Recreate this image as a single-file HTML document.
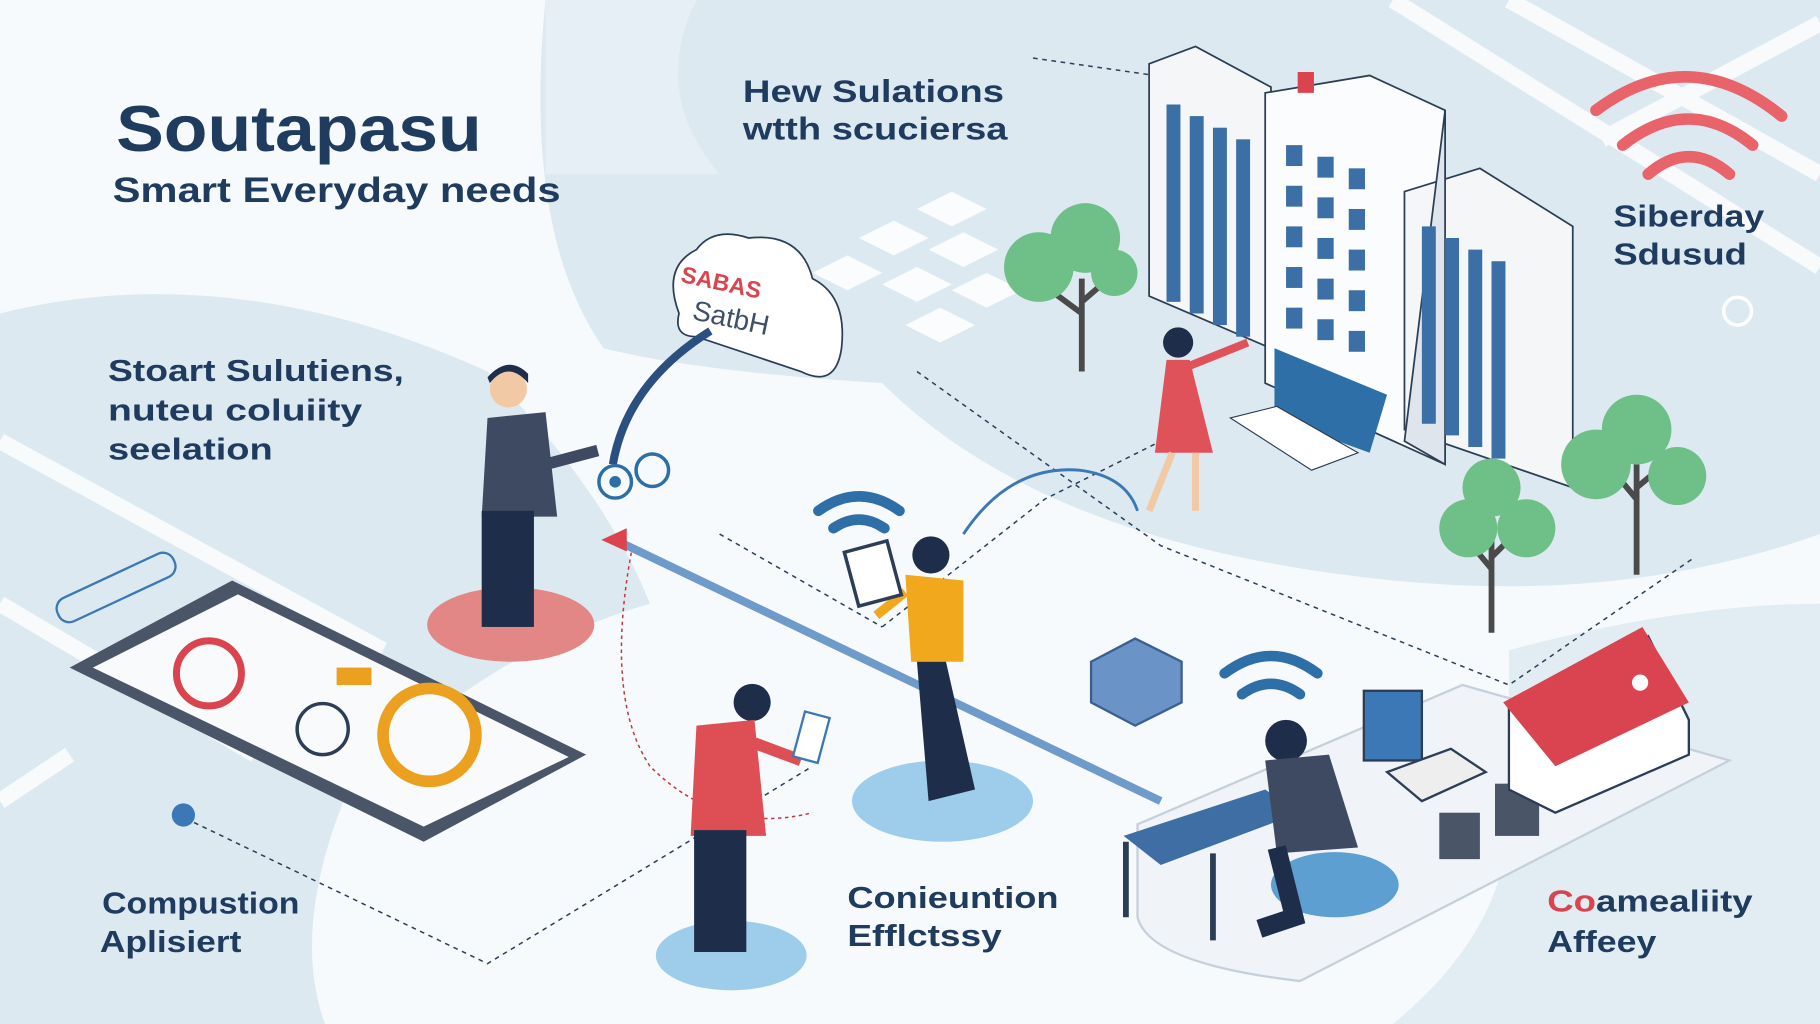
<!DOCTYPE html>
<html><head><meta charset="utf-8"><style>
html,body{margin:0;padding:0;width:1820px;height:1024px;overflow:hidden;background:#fff}
svg{display:block}
text{font-family:"Liberation Sans",sans-serif;font-weight:bold;fill:#1f3b5e}
</style></head><body>
<svg width="1820" height="1024" viewBox="0 0 1568 882" preserveAspectRatio="none">
<rect width="1568" height="882" fill="#f7fafc"/>
<path d="M470 0 L1568 0 L1568 460 Q1400 520 1200 500 Q900 470 760 330 Q600 320 520 300 Q450 200 470 0Z" fill="#dce9f1"/>
<path d="M0 270 Q200 220 420 320 Q520 420 560 520 Q420 560 300 680 Q250 800 280 882 L0 882Z" fill="#dce9f1"/>
<path d="M1300 560 Q1450 520 1568 520 L1568 882 L1200 882 Q1300 800 1300 700Z" fill="#e2edf3"/>
<path d="M600 0 Q560 80 620 150 L470 150 L470 0Z" fill="#e6eff5"/>
<g stroke="#ffffff" stroke-width="14" opacity="0.8" fill="none">
<path d="M0 380 L330 560"/><path d="M0 520 L220 650"/><path d="M60 650 L0 690"/>
<path d="M1200 0 L1568 230"/><path d="M1300 0 L1568 150"/><path d="M1380 120 L1568 20"/>
</g>
<g fill="#ffffff" opacity="0.9">
<path d="M790 180 l30 -15 l30 15 l-30 15z"/><path d="M740 205 l30 -15 l30 15 l-30 15z"/><path d="M800 215 l30 -15 l30 15 l-30 15z"/>
<path d="M700 235 l30 -15 l30 15 l-30 15z"/><path d="M760 245 l30 -15 l30 15 l-30 15z"/><path d="M820 250 l30 -15 l30 15 l-30 15z"/>
<path d="M780 280 l30 -15 l30 15 l-30 15z"/>
</g>
<g stroke="#2a3f5a" stroke-width="1.3" stroke-dasharray="4 4" fill="none">
<path d="M620 460 L760 540"/><path d="M760 540 L900 430 L1000 380"/>
<path d="M790 320 L1000 470 L1300 590 L1460 480"/>
<path d="M160 705 L420 830 L700 660"/>
<path d="M890 50 L1100 80"/>
</g>
<path d="M545 470 Q520 600 560 660 Q620 720 700 700" stroke="#c0393f" stroke-width="1.3" stroke-dasharray="3 3" fill="none"/>
<path d="M530 465 L1000 690" stroke="#6f9bcb" stroke-width="7"/>
<path d="M518 465 L540 455 L540 475Z" fill="#d9444e"/>
<text x="100" y="130" font-size="56" textLength="315" lengthAdjust="spacingAndGlyphs">Soutapasu</text>
<text x="97" y="174" font-size="30" textLength="386" lengthAdjust="spacingAndGlyphs">Smart Everyday needs</text>
<text x="640" y="88" font-size="27" textLength="225" lengthAdjust="spacingAndGlyphs">Hew Sulations</text>
<text x="640" y="120" font-size="27" textLength="228" lengthAdjust="spacingAndGlyphs">wtth scuciersa</text>
<text x="93" y="328" font-size="26" textLength="255" lengthAdjust="spacingAndGlyphs">Stoart Sulutiens,</text>
<text x="93" y="362" font-size="26" textLength="219" lengthAdjust="spacingAndGlyphs">nuteu coluiity</text>
<text x="93" y="396" font-size="26" textLength="142" lengthAdjust="spacingAndGlyphs">seelation</text>
<text x="1390" y="195" font-size="26" textLength="130" lengthAdjust="spacingAndGlyphs">Siberday</text>
<text x="1390" y="228" font-size="26" textLength="115" lengthAdjust="spacingAndGlyphs">Sdusud</text>
<text x="88" y="787" font-size="26" textLength="170" lengthAdjust="spacingAndGlyphs">Compustion</text>
<text x="86" y="820" font-size="26" textLength="122" lengthAdjust="spacingAndGlyphs">Aplisiert</text>
<text x="730" y="782" font-size="26" textLength="182" lengthAdjust="spacingAndGlyphs">Conieuntion</text>
<text x="730" y="815" font-size="26" textLength="133" lengthAdjust="spacingAndGlyphs">Efflctssy</text>
<text x="1333" y="785" font-size="26" textLength="177" lengthAdjust="spacingAndGlyphs"><tspan fill="#d9444e">Co</tspan>amealiity</text>
<text x="1333" y="820" font-size="26" textLength="94" lengthAdjust="spacingAndGlyphs">Affeey</text>
<g stroke="#e8636a" stroke-width="10" fill="none" stroke-linecap="round">
<path d="M1375 95 Q1455 35 1535 100"/><path d="M1398 125 Q1455 80 1510 125"/><path d="M1420 150 Q1455 120 1490 150"/>
</g>
<circle cx="1497" cy="268" r="12" fill="none" stroke="#fff" stroke-width="3"/>
<g stroke="#2c3e55" stroke-width="1.5">
<path d="M990 55 L1030 40 L1095 75 L1095 300 L990 255Z" fill="#f4f6f8"/>
<path d="M1090 80 L1180 65 L1245 95 L1245 400 L1090 330Z" fill="#fbfcfd"/>
<path d="M1210 165 L1275 145 L1355 195 L1355 420 L1210 370Z" fill="#f4f6f8"/>
<path d="M1245 95 L1245 400 L1210 380Z" fill="#dfe5ec"/>
</g>
<g fill="#3b6fa6">
<rect x="1005" y="90" width="12" height="170"/><rect x="1025" y="100" width="12" height="170"/><rect x="1045" y="110" width="12" height="170"/><rect x="1065" y="120" width="12" height="170"/>
<rect x="1225" y="195" width="12" height="170"/><rect x="1245" y="205" width="12" height="170"/><rect x="1265" y="215" width="12" height="170"/><rect x="1285" y="225" width="12" height="170"/>
<rect x="1108" y="125" width="14" height="18"/><rect x="1135" y="135" width="14" height="18"/><rect x="1162" y="145" width="14" height="18"/>
<rect x="1108" y="160" width="14" height="18"/><rect x="1135" y="170" width="14" height="18"/><rect x="1162" y="180" width="14" height="18"/>
<rect x="1108" y="195" width="14" height="18"/><rect x="1135" y="205" width="14" height="18"/><rect x="1162" y="215" width="14" height="18"/>
<rect x="1108" y="230" width="14" height="18"/><rect x="1135" y="240" width="14" height="18"/><rect x="1162" y="250" width="14" height="18"/>
<rect x="1108" y="265" width="14" height="18"/><rect x="1135" y="275" width="14" height="18"/><rect x="1162" y="285" width="14" height="18"/>
<path d="M1098 300 L1195 340 L1180 390 L1098 360Z" fill="#2e6fa8"/>
</g>
<rect x="1118" y="62" width="14" height="18" fill="#d9444e"/>
<path d="M1060 360 L1100 350 L1170 390 L1130 405Z" fill="#fff" stroke="#2c3e55"/>
<g>
<path d="M932 320 L932 240 M932 270 L905 250 M932 260 L955 240" stroke="#4a4a4a" stroke-width="5"/>
<circle cx="895" cy="230" r="30" fill="#6fbf88"/><circle cx="935" cy="205" r="30" fill="#6fbf88"/><circle cx="960" cy="235" r="20" fill="#6fbf88"/>
<path d="M1285 545 L1285 450 M1285 490 L1260 460 M1285 480 L1310 455" stroke="#4a4a4a" stroke-width="5"/>
<circle cx="1265" cy="455" r="25" fill="#6fbf88"/><circle cx="1285" cy="420" r="25" fill="#6fbf88"/><circle cx="1315" cy="455" r="25" fill="#6fbf88"/>
<path d="M1410 495 L1410 400 M1410 430 L1385 400 M1410 420 L1440 395" stroke="#4a4a4a" stroke-width="5"/>
<circle cx="1375" cy="400" r="30" fill="#6fbf88"/><circle cx="1410" cy="370" r="30" fill="#6fbf88"/><circle cx="1445" cy="410" r="25" fill="#6fbf88"/>
</g>
<path d="M585 270 Q570 230 600 215 Q615 195 645 205 Q690 200 700 240 Q730 255 725 300 Q720 335 690 320 L600 290 Q580 290 585 270Z" fill="#fff" stroke="#2c3e55" stroke-width="1.5"/>
<text x="585" y="250" font-size="20" style="fill:#d9444e" transform="rotate(12 620 250)">SABAS</text>
<text x="595" y="280" font-size="24" style="fill:#3d5068;font-weight:normal" transform="rotate(12 620 280)">SatbH</text>
<path d="M612 285 Q540 330 528 400" stroke="#2b4f7e" stroke-width="7" fill="none"/>
<circle cx="530" cy="415" r="14" fill="none" stroke="#2b6fa6" stroke-width="3"/><circle cx="530" cy="415" r="5" fill="#2b6fa6"/>
<circle cx="562" cy="405" r="14" fill="none" stroke="#2b6fa6" stroke-width="3"/>
<path d="M830 460 Q870 400 930 405 Q970 410 980 440" stroke="#3b78b5" stroke-width="2.5" fill="none"/>
<path d="M60 575 L200 500 L505 650 L365 725Z" fill="#4a5568"/>
<path d="M80 575 L205 512 L490 652 L365 712Z" fill="#f8fafc"/>
<circle cx="180" cy="580" r="28" fill="none" stroke="#d9444e" stroke-width="6"/>
<circle cx="370" cy="633" r="40" fill="none" stroke="#eba11f" stroke-width="10"/>
<circle cx="278" cy="628" r="22" fill="none" stroke="#2c3e55" stroke-width="3"/>
<rect x="290" y="575" width="30" height="15" fill="#eba11f"/>
<circle cx="158" cy="702" r="10" fill="#3b78b5"/>
<rect x="45" y="495" width="110" height="22" rx="10" fill="none" stroke="#3b78b5" stroke-width="2" transform="rotate(-25 100 506)"/>
<ellipse cx="440" cy="538" rx="72" ry="32" fill="#e38686"/>
<ellipse cx="812" cy="690" rx="78" ry="35" fill="#9ecdeb"/>
<ellipse cx="630" cy="823" rx="65" ry="30" fill="#9ecdeb"/>
<g>
<path d="M420 360 L470 355 L480 445 L415 445Z" fill="#3d4a61"/>
<rect x="415" y="440" width="45" height="100" fill="#1e2e4a"/>
<circle cx="438" cy="335" r="16" fill="#f1c9a5"/><path d="M422 330 Q438 310 455 330 L455 322 Q438 305 420 325Z" fill="#1e2e4a"/>
<path d="M470 400 L515 388" stroke="#3d4a61" stroke-width="10"/>
<circle cx="1015" cy="295" r="13" fill="#1e2e4a"/>
<path d="M1005 310 L1025 310 L1045 390 L995 390Z" fill="#e0525a"/>
<path d="M1010 390 L990 440 M1030 390 L1030 440" stroke="#f1c9a5" stroke-width="6"/>
<path d="M1025 315 L1075 295" stroke="#e0525a" stroke-width="7"/>
<circle cx="802" cy="478" r="16" fill="#1e2e4a"/>
<path d="M780 495 L830 500 L830 570 L785 570Z" fill="#f2a81d"/>
<path d="M790 570 L815 570 L840 680 L800 690Z" fill="#1e2e4a"/>
<path d="M780 510 L755 530" stroke="#f2a81d" stroke-width="8"/>
<rect x="733" y="470" width="38" height="48" fill="#fff" stroke="#2c3e55" stroke-width="3" transform="rotate(-15 752 494)"/>
<circle cx="648" cy="605" r="16" fill="#1e2e4a"/>
<path d="M600 625 L650 620 L660 720 L595 720Z" fill="#dd4f55"/>
<rect x="598" y="715" width="45" height="105" fill="#1e2e4a"/>
<path d="M650 640 L690 655" stroke="#dd4f55" stroke-width="10"/>
<rect x="688" y="615" width="22" height="40" fill="#fff" stroke="#3b78b5" stroke-width="2" transform="rotate(15 699 635)"/>
</g>
<path d="M980 710 L1260 590 L1490 655 L1120 845 Q990 830 980 790Z" fill="#f0f4f8" stroke="#c7d0da" stroke-width="2"/>
<path d="M968 720 L1090 680 L1120 700 L1000 745Z" fill="#3f6ea5"/>
<path d="M970 725 L970 790 M1045 735 L1045 810" stroke="#2c3e55" stroke-width="5"/>
<ellipse cx="1150" cy="762" rx="55" ry="28" fill="#5e9fd2"/>
<circle cx="1108" cy="638" r="18" fill="#1e2e4a"/>
<path d="M1090 655 L1145 650 L1170 730 L1100 735Z" fill="#3d4a61"/>
<path d="M1100 730 L1115 790 L1085 800" stroke="#1e2e4a" stroke-width="16" fill="none"/>
<path d="M940 570 L978 550 L1018 570 L1018 605 L978 625 L940 605Z" fill="#6a94c7" stroke="#3b5f8f" stroke-width="2"/>
<g stroke="#2e6fa8" stroke-width="9" fill="none" stroke-linecap="round">
<path d="M1055 580 Q1095 550 1135 580"/><path d="M1070 598 Q1095 580 1120 598"/>
<path d="M705 440 Q740 415 775 440"/><path d="M718 455 Q740 440 762 455"/>
</g>
<rect x="1175" y="595" width="50" height="60" fill="#3b78b5" stroke="#2c3e55" stroke-width="2"/>
<path d="M1195 665 L1250 645 L1280 665 L1225 690Z" fill="#eee" stroke="#2c3e55" stroke-width="2"/>
<rect x="1240" y="700" width="35" height="40" fill="#4a5568"/>
<rect x="1288" y="675" width="38" height="45" fill="#4a5568"/>
<path d="M1300 610 L1420 548 L1455 620 L1455 650 L1340 700 L1300 680Z" fill="#fff" stroke="#2c3e55" stroke-width="2"/>
<path d="M1295 605 L1415 540 L1455 605 L1340 660Z" fill="#d94450"/>
<circle cx="1413" cy="588" r="7" fill="#fff"/>
</svg>
</body></html>
